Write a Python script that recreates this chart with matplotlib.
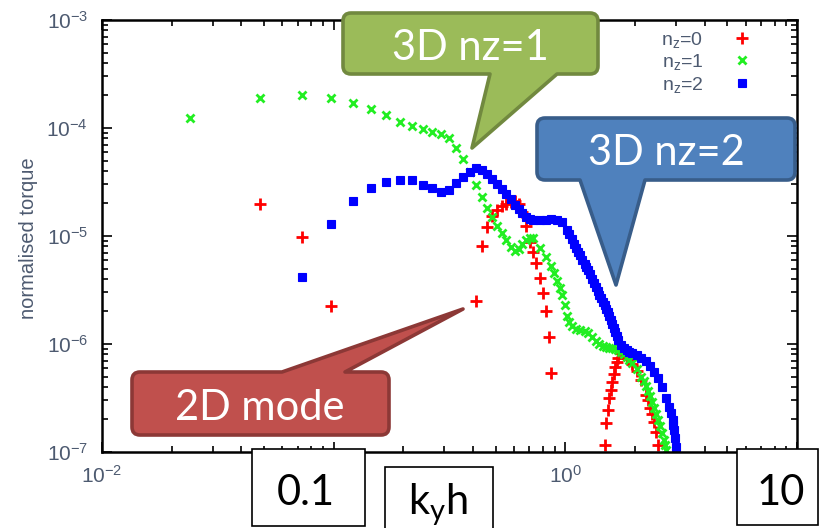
import matplotlib
matplotlib.use("Agg")
import matplotlib.pyplot as plt
from matplotlib.path import Path
from matplotlib.patches import PathPatch, Rectangle

plt.rcParams["font.family"] = "Liberation Sans"
plt.rcParams["mathtext.fontset"] = "custom"
plt.rcParams["mathtext.rm"] = "Liberation Sans"
plt.rcParams["mathtext.it"] = "Liberation Sans:italic"

# n_z = 0
k0 = [0.048, 0.073, 0.097, 0.411, 0.436, 0.460, 0.484, 0.508, 0.532, 0.557,
      0.581, 0.605, 0.629, 0.653, 0.678, 0.702, 0.726, 0.750, 0.774, 0.799,
      0.823, 0.847, 0.871, 1.476, 1.500, 1.525, 1.549, 1.573, 1.597, 1.621,
      1.646, 1.670, 1.694, 1.742, 1.839, 1.936, 2.033, 2.130, 2.226, 2.275,
      2.323, 2.372, 2.420, 2.468, 2.517]
t0 = [1.98e-5, 9.85e-6, 2.25e-6, 2.50e-6, 8.08e-6, 1.21e-5, 1.53e-5, 1.74e-5, 1.90e-5, 1.98e-5,
      2.06e-5, 2.11e-5, 1.98e-5, 1.67e-5, 1.24e-5, 8.80e-6, 7.11e-6, 5.62e-6, 4.08e-6, 2.97e-6,
      2.02e-6, 1.16e-6, 5.39e-7, 1.16e-7, 1.86e-7, 2.45e-7, 3.16e-7, 3.75e-7, 4.45e-7, 5.27e-7,
      6.12e-7, 6.81e-7, 7.42e-7, 8.25e-7, 7.42e-7, 6.53e-7, 5.62e-7, 4.64e-7, 3.37e-7, 3.03e-7,
      2.56e-7, 2.25e-7, 1.90e-7, 1.53e-7, 1.16e-7]

# n_z = 1
k1 = [0.024, 0.048, 0.073, 0.097, 0.121, 0.145, 0.169, 0.194, 0.218, 0.242,
      0.266, 0.290, 0.315, 0.339, 0.363, 0.387, 0.411, 0.436, 0.460, 0.484,
      0.508, 0.532, 0.557, 0.581, 0.605, 0.629, 0.653, 0.678, 0.702, 0.726,
      0.774, 0.823, 0.871, 0.895, 0.920, 0.944, 0.968, 0.992, 1.016, 1.041,
      1.065, 1.113, 1.162, 1.210, 1.258, 1.307, 1.355, 1.404, 1.452, 1.500,
      1.549, 1.597, 1.646, 1.694, 1.742, 1.791, 1.839, 1.888, 1.936, 2.033,
      2.130, 2.178, 2.226, 2.275, 2.323, 2.372, 2.420, 2.468, 2.517, 2.565,
      2.614, 2.662, 2.686, 2.710]
t1 = [1.25e-4, 1.91e-4, 2.02e-4, 1.88e-4, 1.69e-4, 1.49e-4, 1.32e-4, 1.14e-4, 1.04e-4, 9.73e-5,
      9.12e-5, 8.80e-5, 8.13e-5, 6.57e-5, 5.13e-5, 3.91e-5, 2.97e-5, 2.28e-5, 1.80e-5, 1.51e-5,
      1.25e-5, 1.06e-5, 9.18e-6, 7.91e-6, 7.26e-6, 7.58e-6, 8.43e-6, 9.18e-6, 9.58e-6, 9.58e-6,
      7.74e-6, 6.39e-6, 5.27e-6, 4.54e-6, 3.83e-6, 3.30e-6, 2.84e-6, 2.30e-6, 1.82e-6, 1.60e-6,
      1.47e-6, 1.38e-6, 1.35e-6, 1.32e-6, 1.26e-6, 1.16e-6, 1.07e-6, 1.00e-6, 9.58e-7, 9.38e-7,
      9.28e-7, 9.18e-7, 9.08e-7, 8.80e-7, 8.43e-7, 8.08e-7, 7.58e-7, 7.11e-7, 6.67e-7, 5.87e-7,
      4.95e-7, 4.54e-7, 4.08e-7, 3.67e-7, 3.30e-7, 2.90e-7, 2.56e-7, 2.25e-7, 1.98e-7, 1.74e-7,
      1.50e-7, 1.29e-7, 1.16e-7, 1.04e-7]

# n_z = 2
k2 = [0.073, 0.097, 0.121, 0.145, 0.169, 0.194, 0.218, 0.242, 0.266, 0.290,
      0.315, 0.339, 0.363, 0.387, 0.411, 0.436, 0.460, 0.484, 0.508, 0.532,
      0.557, 0.581, 0.605, 0.629, 0.653, 0.678, 0.702, 0.726, 0.774, 0.823,
      0.871, 0.920, 0.968, 1.016, 1.041, 1.065, 1.089, 1.113, 1.137, 1.162,
      1.186, 1.210, 1.234, 1.258, 1.283, 1.307, 1.331, 1.355, 1.379, 1.404,
      1.428, 1.452, 1.476, 1.500, 1.525, 1.549, 1.573, 1.597, 1.621, 1.646,
      1.670, 1.694, 1.742, 1.791, 1.839, 1.888, 1.936, 2.033, 2.130, 2.226,
      2.323, 2.420, 2.517, 2.614, 2.710, 2.807, 2.856, 2.904, 2.928, 2.952,
      2.977, 3.001]
t2 = [4.13e-6, 1.28e-5, 2.12e-5, 2.78e-5, 3.16e-5, 3.30e-5, 3.30e-5, 2.97e-5, 2.77e-5, 2.56e-5,
      2.67e-5, 3.10e-5, 3.52e-5, 3.91e-5, 4.24e-5, 4.08e-5, 3.75e-5, 3.37e-5, 3.03e-5, 2.72e-5,
      2.45e-5, 2.20e-5, 1.94e-5, 1.78e-5, 1.63e-5, 1.50e-5, 1.44e-5, 1.41e-5, 1.41e-5, 1.42e-5,
      1.43e-5, 1.40e-5, 1.35e-5, 1.14e-5, 1.04e-5, 9.38e-6, 8.43e-6, 7.74e-6, 7.11e-6, 6.67e-6,
      5.99e-6, 5.51e-6, 5.16e-6, 4.84e-6, 4.45e-6, 4.00e-6, 3.67e-6, 3.37e-6, 3.10e-6, 2.84e-6,
      2.67e-6, 2.45e-6, 2.30e-6, 2.11e-6, 1.98e-6, 1.82e-6, 1.67e-6, 1.53e-6, 1.41e-6, 1.29e-6,
      1.19e-6, 1.09e-6, 9.79e-7, 9.18e-7, 8.80e-7, 8.43e-7, 8.25e-7, 7.91e-7, 7.42e-7, 6.96e-7,
      6.26e-7, 5.51e-7, 4.84e-7, 4.00e-7, 3.16e-7, 2.61e-7, 2.30e-7, 1.98e-7, 1.78e-7, 1.60e-7,
      1.35e-7, 1.11e-7]

labels = ["n$_\\mathregular{z}$=0", "n$_\\mathregular{z}$=1", "n$_\\mathregular{z}$=2"]
# 10^-1 and 10^1 sit under the slide's white boxes, so they carry no label
xticks = [0.01, 0.1, 1, 10]
xticklabels = ["$\\mathregular{10^{-2}}$", "", "$\\mathregular{10^{0}}$", ""]
txt_col = "#4d5a70"

fig = plt.figure(figsize=(8.23, 5.28), dpi=100)
ax = fig.add_axes([102 / 823, 76 / 528, 695 / 823, 432 / 528])
ax.set_xscale("log")
ax.set_yscale("log")

ax.plot(k0, t0, ls="none", marker="+", ms=8, mew=2, color="#ff0000", label=labels[0])
ax.plot(k1, t1, ls="none", marker="x", ms=6, mew=2, color="#22ee22", label=labels[1])
ax.plot(k2, t2, ls="none", marker="s", ms=5.5, mew=0.8, color="#0000ff", label=labels[2])

ax.set_xlim(0.01, 10)
ax.set_ylim(1e-7, 1e-3)
ax.set_xticks(xticks)
ax.set_xticklabels(xticklabels)
ax.tick_params(which="both", direction="in", top=True, right=True, width=1.2)
ax.tick_params(which="major", length=7, labelsize=15, labelcolor=txt_col)
ax.tick_params(which="minor", length=4)
ax.tick_params(axis="x", pad=9)
ax.tick_params(axis="y", pad=10)
for s in ax.spines.values():
    s.set_linewidth(1.8)

ax.legend(loc="upper right", bbox_to_anchor=(0.935, 0.977), markerfirst=False,
          frameon=False, handlelength=1.0, handletextpad=1.5, labelspacing=0.12,
          borderpad=0, borderaxespad=0, fontsize=14, labelcolor=txt_col)

# overlay in pixel coordinates for the slide annotations
ov = fig.add_axes([0, 0, 1, 1])
ov.set_xlim(0, 823)
ov.set_ylim(528, 0)
ov.axis("off")


def callout(box, side, base, tip, fc, ec, r=8):
    x0, y0, x1, y1 = box
    b0, b1 = base
    V, C = [], []

    def ln(p):
        V.append(p)
        C.append(Path.LINETO)

    def cv(c, p):
        V.extend([c, p])
        C.extend([Path.CURVE3, Path.CURVE3])

    V.append((x0 + r, y0))
    C.append(Path.MOVETO)
    if side == "top":
        ln((b0, y0)); ln(tip); ln((b1, y0))
    ln((x1 - r, y0)); cv((x1, y0), (x1, y0 + r))
    ln((x1, y1 - r)); cv((x1, y1), (x1 - r, y1))
    if side == "bottom":
        ln((b1, y1)); ln(tip); ln((b0, y1))
    ln((x0 + r, y1)); cv((x0, y1), (x0, y1 - r))
    ln((x0, y0 + r)); cv((x0, y0), (x0 + r, y0))
    V.append((0, 0))
    C.append(Path.CLOSEPOLY)
    ov.add_patch(PathPatch(Path(V, C), fc=fc, ec=ec, lw=2.6, joinstyle="round"))


callout((343, 13, 598, 74), "bottom", (490, 557), (472, 148), "#9BBB59", "#71893F")
callout((537, 118, 795, 180), "bottom", (580, 645), (616, 285), "#4F81BD", "#385D8A")
callout((132, 372, 389, 435), "top", (282, 345), (463, 309), "#C0504D", "#8C3836")

big = dict(family="Lato", fontsize=30, ha="center", va="baseline")
ov.text(470, 60, "3D nz=1", color="white", **big)
ov.text(666, 165, "3D nz=2", color="white", **big)
ov.text(260, 420, "2D mode", color="white", **big)

for x0, y0, x1, y1 in [(252, 449, 365, 526), (385, 467, 493, 540), (737, 449, 818, 525)]:
    ov.add_patch(Rectangle((x0, y0), x1 - x0, y1 - y0, fc="white", ec="black", lw=1.2))
ov.text(306, 505, "0.1", color="black", **big)
ov.text(781, 505, "10", color="black", **big)
ov.text(438, 514, "k$_\\mathregular{y}$h", color="black", **big)

ov.text(29, 238, "normalised torque", rotation=90, ha="center", va="center",
        fontsize=14.5, color=txt_col)

fig.savefig("out.png", dpi=100)
